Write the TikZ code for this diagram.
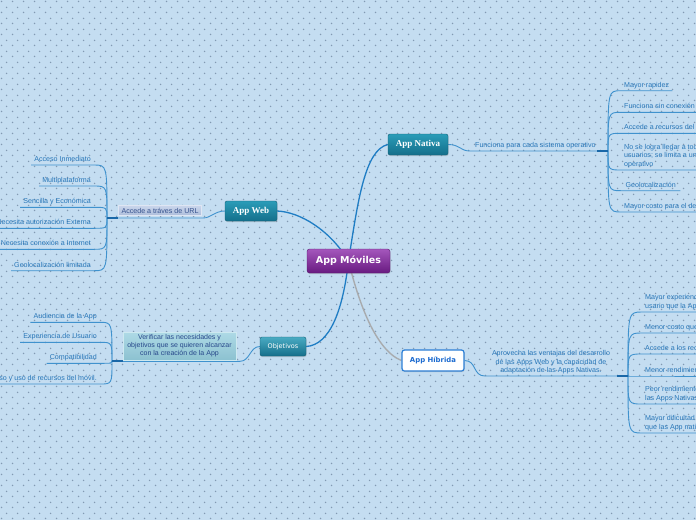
\documentclass[tikz,border=0pt]{standalone}
\usepackage{fontspec}
\setmainfont{Liberation Sans}
\newfontfamily\serifbf{Liberation Serif}
\newfontfamily\djv{DejaVu Sans}
\usetikzlibrary{patterns,shadows}
\pgfdeclarelayer{back}
\pgfdeclarelayer{lines}
\pgfsetlayers{back,lines,main}
\pgfdeclarepatternformonly{bgdots}{\pgfqpoint{0pt}{0pt}}{\pgfqpoint{11pt}{11pt}}{\pgfqpoint{11pt}{11pt}}{%
  \pgfpathcircle{\pgfqpoint{2.75pt}{2.75pt}}{0.85pt}%
  \pgfpathcircle{\pgfqpoint{8.25pt}{8.25pt}}{0.85pt}%
  \pgfusepath{fill}}
\definecolor{bgc}{HTML}{C4DDF1}
\definecolor{dotc}{HTML}{8299B2}
\definecolor{leafc}{HTML}{2776B8}
\definecolor{linec}{HTML}{3F92CE}
\definecolor{brc}{HTML}{1F7DC4}
\definecolor{hubc}{HTML}{1A68A8}
\definecolor{grayc}{HTML}{A8ABAE}
\definecolor{purtop}{HTML}{A457BC}
\definecolor{purbot}{HTML}{681A80}
\definecolor{teatop}{HTML}{2A9CB8}
\definecolor{teabot}{HTML}{146F8B}
\definecolor{hibc}{HTML}{2C7FD6}
\definecolor{hibtext}{HTML}{1C6BD0}
\definecolor{vertop}{HTML}{AEDAE6}
\definecolor{verbot}{HTML}{8CC1D0}
\definecolor{vertext}{HTML}{26478A}
\definecolor{wlabtop}{HTML}{C9D5EB}
\definecolor{wlabbot}{HTML}{AEBEDB}
\definecolor{wlabtext}{HTML}{34508C}
\tikzset{
  leaf/.style={font=\fontsize{7.1}{8.5}\selectfont, text=leafc, inner xsep=3pt, inner ysep=2pt, execute at end node=\vphantom{y}},
  leafR/.style={leaf, anchor=south west, align=left},
  leafL/.style={leaf, anchor=south east, align=right},
  leafline/.style={draw=linec, line width=0.9pt},
  branch/.style={draw=brc, line width=1.3pt},
  graybr/.style={draw=grayc, line width=1.4pt},
  hubseg/.style={draw=hubc, line width=2pt},
  shad/.style={drop shadow={opacity=0.3, shadow xshift=0.6pt, shadow yshift=-1.1pt}},
  topic/.style={shad, rounded corners=2pt, inner sep=0pt, text=white, top color=teatop, bottom color=teabot, draw=teabot!85!black, line width=0.4pt},
  centralbox/.style={shad, rounded corners=2.5pt, inner sep=0pt, text=white, top color=purtop, bottom color=purbot, draw=purbot!85!black, line width=0.4pt, minimum width=83pt, minimum height=24pt, font=\djv\bfseries\fontsize{9.5}{11}\selectfont},
  hibbox/.style={shad, rounded corners=2.5pt, inner sep=0pt, fill=white, draw=hibc, line width=1.2pt, text=hibtext, minimum width=62pt, minimum height=21pt, font=\djv\bfseries\fontsize{6.9}{8}\selectfont},
}
\begin{document}
\begin{tikzpicture}[x=1pt,y=-1pt]
\useasboundingbox (0,0) rectangle (696,520);
\begin{pgfonlayer}{back}
  \fill[bgc] (0,0) rectangle (696,520);
  \fill[pattern=bgdots, pattern color=dotc] (0,0) rectangle (696,520);
\end{pgfonlayer}
\clip (0,0) rectangle (696,520);

% main topics
\node[centralbox] (c) at (348.5,261) {App Móviles};
\node[topic, minimum width=60pt, minimum height=21pt, font=\serifbf\bfseries\fontsize{9}{10}\selectfont] (nat) at (418,144.5) {App Nativa};
\node[topic, minimum width=52pt, minimum height=20pt, font=\serifbf\bfseries\fontsize{9}{10}\selectfont] (web) at (251,211) {App Web};
\node[topic, minimum width=46pt, minimum height=19pt, top color=teatop!85!white, font=\djv\fontsize{6.5}{8}\selectfont] (obj) at (283,346.5) {Objetivos};
\node[hibbox] (hib) at (433,360.5) {App Híbrida};

% sub labels
\node[leaf, anchor=south west, inner xsep=5pt] (nlab) at (470,151) {Funciona para cada sistema operativo};
\node[inner sep=0pt, minimum width=83pt, minimum height=10pt, top color=wlabtop, bottom color=wlabbot, draw=wlabtop!60!white, line width=0.4pt, text=wlabtext, font=\fontsize{7.1}{8}\selectfont] (wlab) at (160,210.5) {Accede a tráves de URL};
\node[inner sep=0pt, minimum width=113pt, minimum height=28pt, align=center, top color=vertop, bottom color=verbot, draw=vertop!60!white, line width=0.4pt, text=vertext, font=\fontsize{7}{8}\selectfont] (ver) at (179.5,346) {Verificar las necesidades y\\objetivos que se quieren alcanzar\\con la creación de la App};
\node[leaf, anchor=south, align=center, inner xsep=7pt, font=\fontsize{7.1}{8.3}\selectfont] (hlab) at (551,376) {Aprovecha las ventajas del desarrollo\\de las Apps Web y la capacidad de\\adaptación de las Apps Nativas.};

% hubs and junctions
\coordinate (hn) at (608,151);
\coordinate (hh) at (628,376);
\coordinate (hw) at (107,218);
\coordinate (ho) at (112,361.3);
\coordinate (wj) at (203,218);
\coordinate (oj) at (240,361.3);

% App Nativa leaves
\node[leafR] (n1) at (621,90.7) {Mayor rapidez};
\node[leafR] (n2) at (621,112.3) {Funciona sin conexión};
\node[leafR] (n3) at (621,133.3) {Accede a recursos del};
\node[leafR] (n4) at (621,170) {No se logra llegar a todos\\usuarios; se limita a un\\operativo};
\node[leafR, minimum width=59pt] (n5) at (621,190.7) {Geolocalización};
\node[leafR] (n6) at (621,212) {Mayor costo para el desarrollo};

% App Hibrida leaves
\node[leafR] (h1) at (642,312) {Mayor experiencia\\usario que la App};
\node[leafR] (h2) at (642,333) {Menor costo que};
\node[leafR] (h3) at (642,354) {Accede a los recursos};
\node[leafR] (h4) at (642,376) {Menor rendimiento};
\node[leafR] (h5) at (642,404) {Peor rendimiento\\las Apps Nativas};
\node[leafR] (h6) at (642,433) {Mayor dificultad\\que las App nativas};

% App Web leaves
\node[leafL] (w1) at (94,165) {Acceso Inmediato};
\node[leafL] (w2) at (94,186) {Multiplataforma};
\node[leafL] (w3) at (94,207.3) {Sencilla y Económica};
\node[leafL] (w4) at (94,228.3) {Necesita autorización Externa};
\node[leafL] (w5) at (94,249.3) {Necesita conexión a Internet};
\node[leafL] (w6) at (94,270.7) {Geolocalización limitada};

% Objetivos leaves
\node[leafL] (o1) at (100,322.3) {Audiencia de la App};
\node[leafL] (o2) at (100,342.3) {Experiencia de Usuario};
\node[leafL] (o3) at (100,363.3) {Compatibilidad};
\node[leafL] (o4) at (100,384) {Acceso y uso de recursos del móvil.};

\begin{pgfonlayer}{lines}
  \clip (0,0) rectangle (696,520);
  % central branches
  \draw[branch] (c.center) .. controls (358,200) and (365,150) .. (nat.west);
  \draw[branch] (c.center) .. controls (330,230) and (300,212) .. (web.east);
  \draw[branch] (c.center) .. controls (343,310) and (330,345) .. (obj.east);
  \draw[graybr] (c.center) .. controls (358,300) and (375,350) .. (hib.west);
  % topic to label
  \draw[leafline] (nat.east) .. controls +(12,0) and +(-10,0) .. (nlab.south west) -- (hn);
  \draw[leafline] (web.west) .. controls +(-10,0) and +(8,0) .. (wj) -- (hw);
  \draw[leafline] (obj.west) .. controls +(-10,0) and +(10,0) .. (oj) -- (ho);
  \draw[leafline] (hib.east) .. controls +(12,0) and +(-12,0) .. (hlab.south west) -- (hh);
  % leaves
  \foreach \n in {n1,n2,n3,n4,n5,n6}{
    \draw[leafline] (hn) .. controls (hn |- \n.south west) .. (\n.south west) -- (\n.south east);
  }
  \foreach \n in {h1,h2,h3,h4,h5,h6}{
    \draw[leafline] (hh) .. controls (hh |- \n.south west) .. (\n.south west) -- (\n.south east);
  }
  \foreach \n in {w1,w2,w3,w4,w5,w6}{
    \draw[leafline] (hw) .. controls (hw |- \n.south east) .. (\n.south east) -- (\n.south west);
  }
  \foreach \n in {o1,o2,o3,o4}{
    \draw[leafline] (ho) .. controls (ho |- \n.south east) .. (\n.south east) -- (\n.south west);
  }
  % thick hub segments
  \draw[hubseg] (hn) -- ++(-11,0);
  \draw[hubseg] (hh) -- ++(-11,0);
  \draw[hubseg] (hw) -- ++(11,0);
  \draw[hubseg] (ho) -- ++(11,0);
\end{pgfonlayer}
\end{tikzpicture}
\end{document}
